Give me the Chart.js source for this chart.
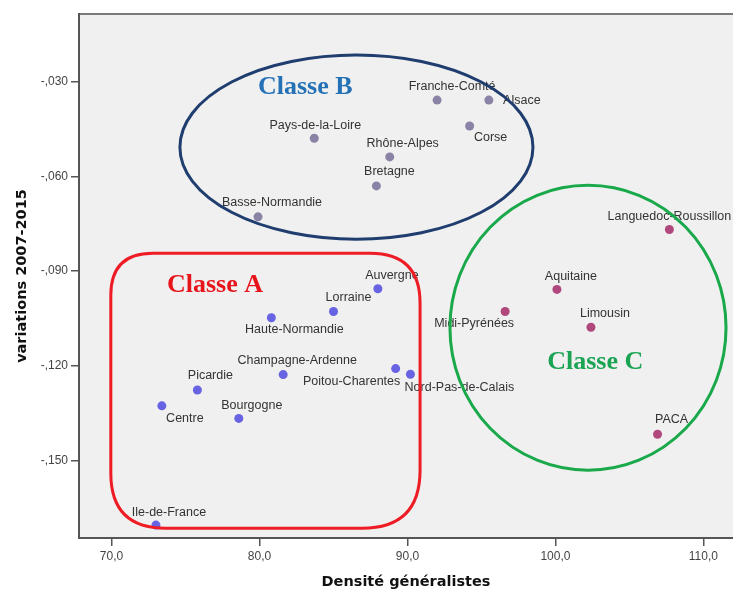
<!DOCTYPE html>
<html>
<head>
<meta charset="utf-8">
<script src="https://cdn.jsdelivr.net/npm/chart.js@4.4.1/dist/chart.umd.min.js"></script>
<style>
  html, body { margin: 0; padding: 0; background: #fff; overflow: hidden; }
  #wrap { width: 733px; height: 592px; }
  canvas { display: block; }
</style>
</head>
<body>
<div id="wrap"><canvas id="chart" width="733" height="592"></canvas></div>
<script>
// Classe A
const namesA = ['Ile-de-France', 'Centre', 'Picardie', 'Bourgogne', 'Champagne-Ardenne',
  'Haute-Normandie', 'Lorraine', 'Auvergne', 'Poitou-Charentes', 'Nord-Pas-de-Calais'];
const densA = [73.0, 73.4, 75.8, 78.6, 81.6, 80.8, 85.0, 88.0, 89.2, 90.2];
const varA = [-0.1705, -0.1327, -0.1277, -0.1367, -0.1228, -0.1048, -0.1028, -0.0956, -0.1209, -0.1227];

// Classe B
const namesB = ['Franche-Comté', 'Alsace', 'Corse', 'Pays-de-la-Loire', 'Rhône-Alpes', 'Bretagne', 'Basse-Normandie'];
const densB = [92.0, 95.5, 94.2, 83.7, 88.8, 87.9, 79.9];
const varB = [-0.0358, -0.0358, -0.0440, -0.0479, -0.0538, -0.0630, -0.0728];

// Classe C
const namesC = ['Languedoc-Roussillon', 'Aquitaine', 'Midi-Pyrénées', 'Limousin', 'PACA'];
const densC = [107.7, 100.1, 96.6, 102.4, 106.9];
const varC = [-0.0768, -0.0958, -0.1028, -0.1078, -0.1417];

// axes
const xTicks = [70, 80, 90, 100, 110];
const xTickLabels = ['70,0', '80,0', '90,0', '100,0', '110,0'];
const yTicks = [-0.15, -0.12, -0.09, -0.06, -0.03];
const yTickLabels = ['-,150', '-,120', '-,090', '-,060', '-,030'];

// label placement (pixels from the point), same order as the names
const offA = [[13, -13], [23, 13], [13, -14], [13, -13], [14, -14], [23, 12], [15, -14], [14, -13], [-44, 13], [49, 13]];
const offB = [[15, -14], [33, 0], [21, 12], [1, -13], [13, -13], [13, -14], [14, -14]];
const offC = [[0, -13], [14, -13], [-31, 12], [14, -14], [14, -15]];

// class outlines, in data units
const outlines = [
  { kind: 'rect', x0: 69.95, x1: 90.85, y0: -0.0843, y1: -0.1715, color: '#ee1c24', radii: [42, 50, 58, 55] },
  { kind: 'ellipse', x0: 74.62, x1: 98.48, y0: -0.0215, y1: -0.0799, color: '#1f3d6e' },
  { kind: 'ellipse', x0: 92.87, x1: 111.53, y0: -0.0628, y1: -0.1531, color: '#19a94b' }
];
const classTitles = [
  { text: 'Classe A', x: 76.99, y: -0.0967, color: '#e8141c' },
  { text: 'Classe B', x: 83.09, y: -0.0339, color: '#2571b6' },
  { text: 'Classe C', x: 102.69, y: -0.1211, color: '#1aa453' }
];

function points(xs, ys) {
  return xs.map((x, i) => ({ x: x, y: ys[i] }));
}

function roundedRect(ctx, x, y, w, h, r) {
  ctx.beginPath();
  ctx.moveTo(x + r[0], y);
  ctx.lineTo(x + w - r[1], y);
  ctx.quadraticCurveTo(x + w, y, x + w, y + r[1]);
  ctx.lineTo(x + w, y + h - r[2]);
  ctx.quadraticCurveTo(x + w, y + h, x + w - r[2], y + h);
  ctx.lineTo(x + r[3], y + h);
  ctx.quadraticCurveTo(x, y + h, x, y + h - r[3]);
  ctx.lineTo(x, y + r[0]);
  ctx.quadraticCurveTo(x, y, x + r[0], y);
  ctx.closePath();
}

const plotFrame = {
  id: 'plotFrame',
  // stretch the plot to the right edge of the canvas
  afterLayout(chart) {
    const x = chart.scales.x;
    x.right = chart.width;
    x.width = x.right - x.left;
    x.configure();
    chart.chartArea.right = chart.width;
    chart.chartArea.width = chart.chartArea.right - chart.chartArea.left;
  },
  beforeDraw(chart) {
    const { ctx, chartArea: a } = chart;
    ctx.save();
    ctx.fillStyle = '#f0f0f0';
    ctx.fillRect(a.left, a.top, a.right - a.left, a.bottom - a.top);
    ctx.strokeStyle = '#7a7a7a';
    ctx.lineWidth = 2;
    ctx.beginPath();
    ctx.moveTo(a.left, a.top);
    ctx.lineTo(a.right, a.top);
    ctx.stroke();
    ctx.restore();
  }
};

const pointLabels = {
  id: 'pointLabels',
  afterDatasetsDraw(chart) {
    const ctx = chart.ctx;
    ctx.save();
    ctx.font = '12.5px "Liberation Sans", Arial, sans-serif';
    ctx.fillStyle = '#333';
    ctx.textAlign = 'center';
    ctx.textBaseline = 'middle';
    chart.data.datasets.forEach((ds, di) => {
      chart.getDatasetMeta(di).data.forEach((el, i) => {
        const off = ds.offsets[i];
        ctx.fillText(ds.names[i], el.x + off[0], el.y + off[1]);
      });
    });

    // outlines drawn over the labels
    const xs = chart.scales.x, ys = chart.scales.y;
    ctx.lineWidth = 3;
    outlines.forEach(o => {
      const l = xs.getPixelForValue(o.x0), r = xs.getPixelForValue(o.x1);
      const t = ys.getPixelForValue(o.y0), b = ys.getPixelForValue(o.y1);
      ctx.strokeStyle = o.color;
      if (o.kind === 'rect') {
        roundedRect(ctx, l, t, r - l, b - t, o.radii);
      } else {
        ctx.beginPath();
        ctx.ellipse((l + r) / 2, (t + b) / 2, (r - l) / 2, (b - t) / 2, 0, 0, Math.PI * 2);
      }
      ctx.stroke();
    });

    ctx.font = 'bold 26px "Liberation Serif", "Times New Roman", serif';
    ctx.textBaseline = 'alphabetic';
    classTitles.forEach(c => {
      ctx.fillStyle = c.color;
      ctx.fillText(c.text, xs.getPixelForValue(c.x), ys.getPixelForValue(c.y));
    });
    ctx.restore();
  }
};

const ctx = document.getElementById('chart').getContext('2d');
new Chart(ctx, {
  type: 'scatter',
  data: {
    datasets: [
      { label: 'Classe A', names: namesA, offsets: offA, data: points(densA, varA), backgroundColor: '#6763e2' },
      { label: 'Classe B', names: namesB, offsets: offB, data: points(densB, varB), backgroundColor: '#8b83a6' },
      { label: 'Classe C', names: namesC, offsets: offC, data: points(densC, varC), backgroundColor: '#b0487e' }
    ]
  },
  options: {
    responsive: false,
    animation: false,
    layout: { padding: { top: 14, right: 0, left: 0, bottom: 0 } },
    elements: { point: { radius: 4.5, borderWidth: 0 } },
    plugins: { legend: { display: false }, tooltip: { enabled: false } },
    scales: {
      x: {
        type: 'linear',
        min: 67.8,
        max: 112,
        afterBuildTicks: s => { s.ticks = xTicks.map(v => ({ value: v })); },
        afterFit: s => { s.height = 54; },
        ticks: {
          callback: (v, i) => xTickLabels[i],
          color: '#444',
          padding: 3,
          maxRotation: 0,
          font: { family: '"Liberation Sans", Arial, sans-serif', size: 12 }
        },
        grid: { drawOnChartArea: false, drawTicks: true, tickLength: 8, color: '#555', lineWidth: 1.5 },
        border: { display: true, color: '#555', width: 2 },
        title: {
          display: true,
          text: 'Densité généralistes',
          color: '#111',
          padding: { top: 0, bottom: 1 },
          font: { family: '"DejaVu Sans", sans-serif', size: 14.5, weight: 'bold' }
        }
      },
      y: {
        type: 'linear',
        min: -0.1746,
        max: -0.0085,
        afterBuildTicks: s => { s.ticks = yTicks.map(v => ({ value: v })); },
        afterFit: s => { s.width = 79; },
        ticks: {
          callback: (v, i) => yTickLabels[i],
          color: '#444',
          padding: 3,
          font: { family: '"Liberation Sans", Arial, sans-serif', size: 12 }
        },
        grid: { drawOnChartArea: false, drawTicks: true, tickLength: 8, color: '#555', lineWidth: 1.5 },
        border: { display: true, color: '#555', width: 2 },
        title: {
          display: true,
          text: 'variations 2007-2015',
          color: '#111',
          padding: { top: 14, bottom: 0 },
          font: { family: '"DejaVu Sans", sans-serif', size: 14.5, weight: 'bold' }
        }
      }
    }
  },
  plugins: [plotFrame, pointLabels]
});
</script>
</body>
</html>
